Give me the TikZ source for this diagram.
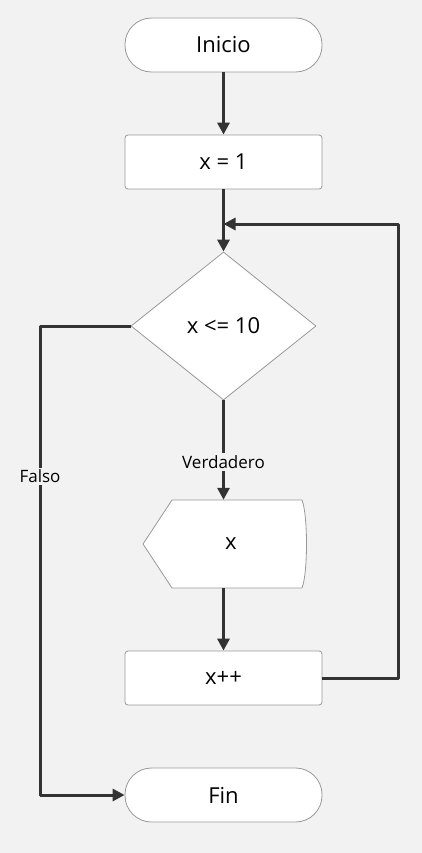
\documentclass[tikz,border=0pt]{standalone}
\usepackage{fontspec}
\setmainfont{Open Sans}
\usepackage{tikz}
\usetikzlibrary{arrows.meta,shapes.geometric}
\usetikzlibrary{positioning}
\definecolor{bgcol}{HTML}{F2F2F2}
\definecolor{edgecol}{HTML}{999999}
\definecolor{linecol}{HTML}{333333}
\tikzset{
    terminal/.style={rectangle, rounded corners=26.5pt, draw=edgecol, fill=white, line width=0.8pt,
        minimum width=197pt, minimum height=54pt, font=\fontsize{22}{26}\selectfont},
    process/.style={rectangle, rounded corners=3pt, draw=edgecol, fill=white, line width=0.8pt,
        minimum width=197pt, minimum height=54pt, font=\fontsize{22}{26}\selectfont},
    decision/.style={diamond, draw=edgecol, fill=white, line width=0.8pt, aspect=1.25,
        minimum width=185pt, minimum height=148pt, inner sep=0pt, font=\fontsize{22}{26}\selectfont},
    display/.style={minimum width=162pt, minimum height=88pt, inner sep=0pt,
        font=\fontsize{22}{26}\selectfont},
    flow/.style={draw=linecol, line width=3pt, -{Triangle[length=12pt,width=12pt]}},
    flownoarrow/.style={draw=linecol, line width=3pt},
    flowlabel/.style={fill=bgcol, inner sep=2pt, font=\fontsize{17}{20}\selectfont},
}
\begin{document}
\begin{tikzpicture}[x=1pt, y=-1pt, line join=round]
	\useasboundingbox[fill=bgcol] (0,0) rectangle (422,853);
	\node[terminal] (inicio) at (223.5,45) {Inicio};
	\node[process] (asig) at (223.5,162) {x = 1};
	\node[decision] (cond) at (223.5,326) {x <= 10};
	% display shape drawn by hand
	\draw[edgecol, fill=white, line width=0.8pt] (172,500) -- (302,500)
		.. controls (308,515) and (308,573) .. (302,588) -- (172,588) -- (143,544) -- cycle;
	\node[display] (salida) at (223.5,544) {\hspace{15pt}x};
	\node[process] (incr) at (223.5,678) {x++};
	\node[terminal] (fin) at (223.5,795) {Fin};
	\coordinate (retorno) at (398,224);
	\coordinate (izq) at (40,326);
	\draw[flow] (inicio) -- (asig);
	\draw[flow] (asig) -- (cond);
	\draw[flow] (cond) -- node[flowlabel, pos=0.62] {Verdadero} (salida);
	\draw[flow] (salida) -- (incr);
	\draw[flow] (incr.east) -| (retorno) -- (retorno -| cond.north);
	\draw[flow] (cond.west) -- (izq) |- node[flowlabel, pos=0.16] {Falso} (fin.west);
\end{tikzpicture}
\end{document}
